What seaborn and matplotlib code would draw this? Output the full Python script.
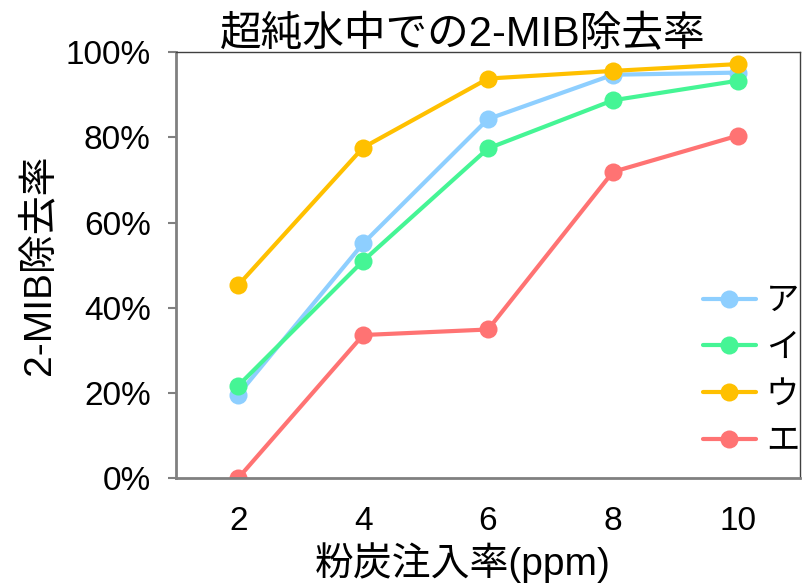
import matplotlib
matplotlib.use("Agg")
import matplotlib.pyplot as plt
import pandas as pd
import seaborn as sns

# データ
dosis = ["2", "4", "6", "8", "10"]
series_names = ["ア", "イ", "ウ", "エ"]
val_a = [19.6, 55.1, 84.3, 94.7, 95.2]
val_i = [21.7, 51.0, 77.4, 88.7, 93.3]
val_u = [45.3, 77.6, 93.8, 95.6, 97.2]
val_e = [0.0, 33.6, 34.9, 71.9, 80.4]
colores = ["#8ECFFF", "#45F595", "#FFC000", "#FF7373"]

filas = []
for nombre, valores in zip(series_names, [val_a, val_i, val_u, val_e]):
    for i, v in enumerate(valores):
        filas.append({"pos": i, "valor": v, "serie": nombre})
df = pd.DataFrame(filas)

sns.set_style("white")
plt.rcParams["font.family"] = ["Liberation Sans", "Noto Sans CJK JP"]
plt.rcParams["text.color"] = "black"
plt.rcParams["xtick.labelcolor"] = "black"
plt.rcParams["ytick.labelcolor"] = "black"
plt.rcParams["axes.labelcolor"] = "black"

fig = plt.figure(figsize=(8.06, 5.86), dpi=100)
ax = fig.add_axes([0.218, 0.184, 0.775, 0.727])

sns.lineplot(data=df, x="pos", y="valor", hue="serie", palette=colores,
             marker="o", markersize=13, markeredgewidth=0, linewidth=3,
             ax=ax)

ax.set_xlim(-0.5, 4.5)
ax.set_ylim(0, 100)
ax.set_xticks(range(len(dosis)))
ax.set_xticklabels(dosis)
ax.set_xticks([x - 0.5 for x in range(len(dosis) + 1)], minor=True)
ax.tick_params(axis="x", which="major", length=0, pad=20, labelsize=24)
ax.tick_params(axis="x", which="minor", length=9, width=1.5, color="#808080",
               direction="out")
ax.set_yticks([0, 20, 40, 60, 80, 100])
ax.set_yticklabels([f"{v}%" for v in [0, 20, 40, 60, 80, 100]])
ax.tick_params(axis="y", length=6, width=1.5, color="#808080",
               direction="out", labelsize=24, left=True, pad=12)

for lado in ["left", "bottom"]:
    ax.spines[lado].set_color("#808080")
    ax.spines[lado].set_linewidth(2)
for lado in ["top", "right"]:
    ax.spines[lado].set_color("#404040")
    ax.spines[lado].set_linewidth(1)

ax.set_xlabel("粉炭注入率(ppm)", fontsize=28, labelpad=4)
ax.xaxis.label.set_x(0.46)
ax.set_ylabel("2-MIB除去率", fontsize=28, labelpad=6)
ax.set_title("超純水中での2-MIB除去率", fontsize=30, pad=4, x=0.46)

ax.legend(title=None, loc="lower right", bbox_to_anchor=(1.025, 0.01),
          frameon=False, fontsize=24, handlelength=1.6, labelspacing=0.47,
          handletextpad=0.3, borderaxespad=0.1)

fig.savefig("out.png", dpi=100)
